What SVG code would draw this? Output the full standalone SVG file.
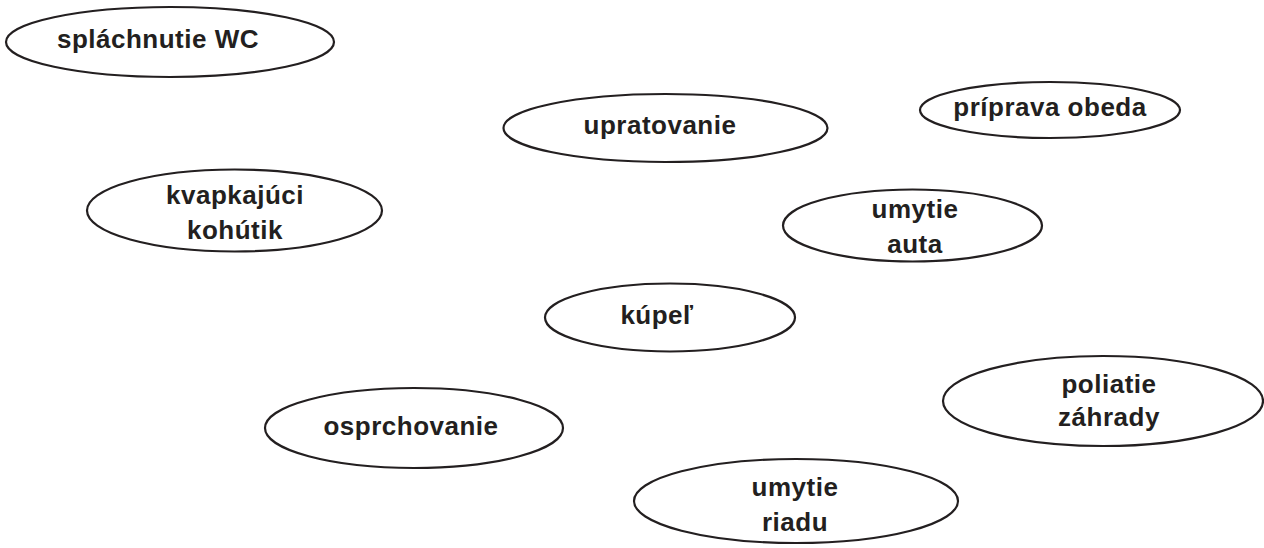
<svg xmlns="http://www.w3.org/2000/svg" width="1264" height="548" viewBox="0 0 1264 548">
<style>
.n ellipse{fill:#fff;stroke:#231f20;stroke-width:2.2}
.n text{font-family:"Liberation Sans",Arial,sans-serif;font-weight:bold;font-size:26px;letter-spacing:0.5px;fill:#231f20;text-anchor:middle}
</style>
<rect width="1264" height="548" fill="#fff"/>
<g id="connectors"></g>
<g id="n1" class="n"><ellipse cx="170" cy="42" rx="164" ry="35"/><text x="158" y="48">spláchnutie WC</text></g>
<g id="n2" class="n"><ellipse cx="665.5" cy="128" rx="162" ry="34"/><text x="660" y="134">upratovanie</text></g>
<g id="n3" class="n"><ellipse cx="1050" cy="110" rx="130" ry="28"/><text x="1050" y="116">príprava obeda</text></g>
<g id="n4" class="n"><ellipse cx="234.5" cy="210.5" rx="147.5" ry="41"/><text x="235" y="204">kvapkajúci</text><text x="235" y="239">kohútik</text></g>
<g id="n5" class="n"><ellipse cx="912.5" cy="225.5" rx="129.5" ry="36"/><text x="915" y="218">umytie</text><text x="915" y="253">auta</text></g>
<g id="n6" class="n"><ellipse cx="670" cy="317.5" rx="125" ry="34"/><text x="657" y="324">kúpeľ</text></g>
<g id="n7" class="n"><ellipse cx="1103" cy="401" rx="160" ry="45"/><text x="1109" y="393">poliatie</text><text x="1109" y="426">záhrady</text></g>
<g id="n8" class="n"><ellipse cx="414" cy="428" rx="149" ry="40"/><text x="411" y="435">osprchovanie</text></g>
<g id="n9" class="n"><ellipse cx="796" cy="501" rx="162" ry="42"/><text x="795" y="496">umytie</text><text x="795" y="531">riadu</text></g>
</svg>
